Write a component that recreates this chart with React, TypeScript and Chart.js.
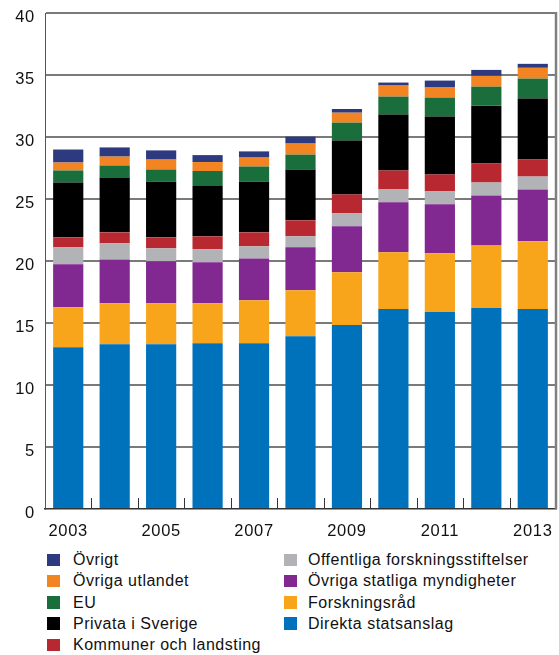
import React, { useEffect, useRef } from "react";
import { Chart, registerables } from "chart.js";

Chart.register(...registerables);

const years = ["2003", "2004", "2005", "2006", "2007", "2008", "2009", "2010", "2011", "2012", "2013"];
const yTicks = [0, 5, 10, 15, 20, 25, 30, 35, 40];

const direkta = [13.05, 13.29, 13.29, 13.37, 13.37, 13.94, 14.84, 16.12, 15.88, 16.2, 16.12];
const forskningsrad = [3.22, 3.3, 3.3, 3.22, 3.47, 3.7, 4.26, 4.59, 4.75, 5.06, 5.47];
const ovrigaStatliga = [3.46, 3.54, 3.39, 3.31, 3.37, 3.46, 3.7, 4.02, 3.94, 4.03, 4.18];
const offentliga = [1.37, 1.29, 1.04, 1.04, 0.97, 0.89, 1.04, 1.04, 1.04, 1.04, 1.04];
const kommuner = [0.81, 0.89, 0.89, 1.05, 1.13, 1.29, 1.53, 1.53, 1.37, 1.53, 1.37];
const privata = [4.42, 4.42, 4.51, 4.06, 4.11, 4.1, 4.34, 4.51, 4.67, 4.67, 4.92];
const eu = [0.97, 0.97, 0.96, 1.21, 1.2, 1.2, 1.45, 1.45, 1.53, 1.53, 1.61];
const ovrigaUtlandet = [0.64, 0.72, 0.8, 0.72, 0.72, 0.89, 0.8, 0.89, 0.81, 0.87, 0.87];
const ovrigt = [1.05, 0.74, 0.74, 0.56, 0.5, 0.56, 0.3, 0.24, 0.56, 0.48, 0.32];

const seriesNames = [
  "Direkta statsanslag",
  "Forskningsråd",
  "Övriga statliga myndigheter",
  "Offentliga forskningsstiftelser",
  "Kommuner och landsting",
  "Privata i Sverige",
  "EU",
  "Övriga utlandet",
  "Övrigt",
];
const seriesData = [direkta, forskningsrad, ovrigaStatliga, offentliga, kommuner, privata, eu, ovrigaUtlandet, ovrigt];
const seriesColors = ["#0072bc", "#f8a51c", "#812990", "#b1b3b6", "#b72830", "#000000", "#1a6e3c", "#f28421", "#2e3a80"];

const legendCol1 = ["Övrigt", "Övriga utlandet", "EU", "Privata i Sverige", "Kommuner och landsting"];
const legendCol2 = ["Offentliga forskningsstiftelser", "Övriga statliga myndigheter", "Forskningsråd", "Direkta statsanslag"];

const FONT = "'Liberation Sans', Arial, Helvetica, sans-serif";

const framePlugin = {
  id: "frame",
  beforeDraw(chart: any) {
    (chart.ctx as any).letterSpacing = "0.7px";
  },
  beforeDatasetsDraw(chart: any) {
    const { ctx, chartArea } = chart;
    const xs = chart.scales.x;
    ctx.save();
    ctx.strokeStyle = "#333";
    ctx.lineWidth = 1;
    const n = years.length;
    const w = (chartArea.right - chartArea.left) / n;
    for (let i = 1; i < n; i++) {
      const x = Math.round(xs.getPixelForValue(i) - w / 2) + 0.5;
      ctx.beginPath();
      ctx.moveTo(x, chartArea.bottom);
      ctx.lineTo(x, chartArea.bottom - 11);
      ctx.stroke();
    }
    ctx.restore();
  },
  afterDraw(chart: any) {
    const { ctx, chartArea } = chart;
    ctx.save();
    ctx.strokeStyle = "#808080";
    ctx.lineWidth = 2.5;
    ctx.beginPath();
    ctx.moveTo(chartArea.right, chartArea.top - 1);
    ctx.lineTo(chartArea.right, chartArea.bottom);
    ctx.stroke();
    ctx.restore();
  },
};

export default function App() {
  const ref = useRef<HTMLCanvasElement | null>(null);

  useEffect(() => {
    document.body.style.margin = "0";
    if (!ref.current) return;
    const chart = new Chart(ref.current, {
      type: "bar",
      data: {
        labels: years,
        datasets: seriesNames.map((name, i) => ({
          label: name,
          data: seriesData[i],
          backgroundColor: seriesColors[i],
          borderWidth: 0,
          barPercentage: 0.65,
          categoryPercentage: 1,
        })),
      },
      options: {
        responsive: false,
        animation: false,
        layout: { padding: { top: 13, right: 3, left: 0, bottom: 0 } },
        plugins: { legend: { display: false }, tooltip: { enabled: false } },
        scales: {
          x: {
            stacked: true,
            grid: { display: false, drawTicks: false },
            border: { display: true, color: "#333", width: 1.5 },
            ticks: {
              autoSkip: false,
              maxRotation: 0,
              padding: 13,
              color: "#111",
              font: { family: FONT, size: 16.5 },
              callback: (_v: any, i: number) => (i % 2 === 0 ? years[i] : ""),
            },
            afterFit: (s: any) => {
              s.height = 31;
              s.paddingLeft = 0;
              s.paddingRight = 0;
            },
          },
          y: {
            stacked: true,
            min: yTicks[0],
            max: yTicks[yTicks.length - 1],
            afterBuildTicks: (s: any) => {
              s.ticks = yTicks.map((v) => ({ value: v }));
            },
            ticks: {
              padding: 10,
              labelOffset: 4,
              color: "#111",
              font: { family: FONT, size: 16.5 },
            },
            grid: {
              drawTicks: false,
              color: (c: any) => (c.tick && c.tick.value === 0 ? "rgba(0,0,0,0)" : "#7a7a7a"),
              lineWidth: 2,
            },
            border: { display: true, color: "#555", width: 1 },
            afterFit: (s: any) => {
              s.width = 45;
              s.paddingTop = 0;
              s.paddingBottom = 0;
            },
          },
        },
      },
      plugins: [framePlugin],
    } as any);
    return () => chart.destroy();
  }, []);

  const rowTop = (r: number) => 548 + r * 21.3;

  const legendItem = (label: string, idx: number, col: number) => {
    const color = seriesColors[seriesNames.indexOf(label)];
    const sqLeft = col === 0 ? 47 : 284;
    const txtLeft = col === 0 ? 73 : 308;
    const top = rowTop(idx);
    return (
      <React.Fragment key={label}>
        <div
          style={{
            position: "absolute",
            left: sqLeft,
            top: top + 5.5,
            width: 13,
            height: 12.5,
            background: color,
          }}
        />
        <div
          style={{
            position: "absolute",
            left: txtLeft,
            top: top,
            height: 23,
            lineHeight: "23px",
            fontFamily: FONT,
            fontSize: 16,
            letterSpacing: "0.5px",
            color: "#111",
            whiteSpace: "nowrap",
          }}
        >
          {label}
        </div>
      </React.Fragment>
    );
  };

  return (
    <div style={{ position: "relative", width: 559, height: 655, background: "#fff" }}>
      <canvas ref={ref} width={559} height={540} style={{ position: "absolute", left: 0, top: 0 }} />
      {legendCol1.map((l, i) => legendItem(l, i, 0))}
      {legendCol2.map((l, i) => legendItem(l, i, 1))}
    </div>
  );
}
